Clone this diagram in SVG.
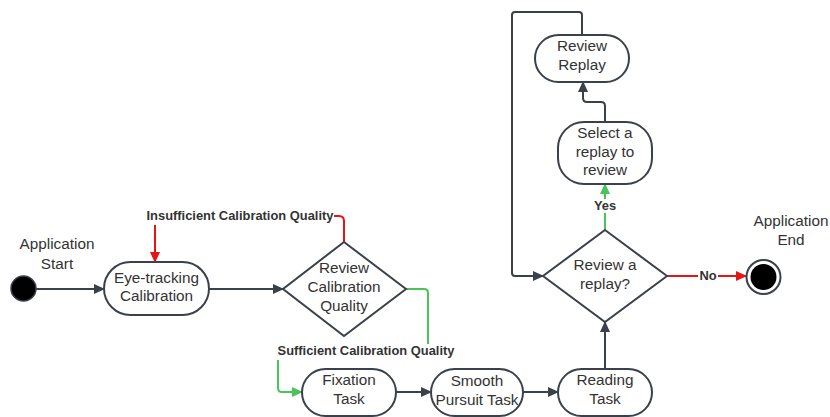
<svg xmlns="http://www.w3.org/2000/svg" width="830" height="417" viewBox="0 0 830 417">
<defs>
<marker id="ad" markerWidth="12" markerHeight="10" refX="10" refY="5" orient="auto" markerUnits="userSpaceOnUse"><path d="M0,0 L11,5 L0,10 Z" fill="#3a414a"/></marker>
<marker id="ar" markerWidth="12" markerHeight="10" refX="10" refY="5" orient="auto" markerUnits="userSpaceOnUse"><path d="M0,0 L11,5 L0,10 Z" fill="#e81313"/></marker>
<marker id="ag" markerWidth="12" markerHeight="10" refX="10" refY="5" orient="auto" markerUnits="userSpaceOnUse"><path d="M0,0 L11,5 L0,10 Z" fill="#4ac45a"/></marker>
</defs>
<style>
.n{fill:#fff;stroke:#3a414a;stroke-width:2}
.t{font-family:"Liberation Sans",Arial,sans-serif;font-size:15.3px;fill:#333;text-anchor:middle}
.l{font-family:"Liberation Sans",Arial,sans-serif;font-size:12.9px;font-weight:bold;fill:#333;text-anchor:middle}
.c{fill:none;stroke:#3a414a;stroke-width:2}
.r{fill:none;stroke:#e81313;stroke-width:2}
.g{fill:none;stroke:#4ac45a;stroke-width:2}
</style>
<rect width="830" height="417" fill="#fff"/>
<g id="connectors">
<path class="c" d="M36,289 H104" marker-end="url(#ad)"/>
<path class="c" d="M209,289 H283" marker-end="url(#ad)"/>
<path class="r" d="M344,242 V221 Q344,216 339,216 H334"/>
<path class="r" d="M155,225 V262" marker-end="url(#ar)"/>
<path class="g" d="M406,289 H424 Q428,289 428,293 V344"/>
<path class="g" d="M278,360 V388 Q278,392 282,392 H302" marker-end="url(#ag)"/>
<path class="c" d="M396,392 H431" marker-end="url(#ad)"/>
<path class="c" d="M523,392 H558" marker-end="url(#ad)"/>
<path class="c" d="M605,369 V322" marker-end="url(#ad)"/>
<path class="g" d="M605,230 V213"/>
<path class="g" d="M605,199 V184" marker-end="url(#ag)"/>
<path class="r" d="M667,276 H698"/>
<path class="r" d="M718,276 H746" marker-end="url(#ar)"/>
<path class="c" d="M605,122 V106 Q605,102 601,102 H587 Q583,102 583,98 V82" marker-end="url(#ad)"/>
<path class="c" d="M582,35 V15 Q582,12 579,12 H515 Q512,12 512,15 V273 Q512,276 515,276 H543" marker-end="url(#ad)"/>
<text class="l" x="240" y="220">Insufficient Calibration Quality</text>
<text class="l" x="366" y="355">Sufficient Calibration Quality</text>
<text class="l" x="605" y="210">Yes</text>
<text class="l" x="708" y="280">No</text>
</g>
<g id="start">
<circle cx="23.5" cy="288.5" r="12.5" fill="#000" stroke="#3a414a" stroke-width="1.5"/>
<text class="t" x="57" y="249">Application</text>
<text class="t" x="57" y="269">Start</text>
</g>
<g id="calibration">
<rect class="n" x="104" y="262" width="105" height="53" rx="26.5"/>
<text class="t" x="156.5" y="283">Eye-tracking</text>
<text class="t" x="156.5" y="301">Calibration</text>
</g>
<g id="review-calibration">
<path class="n" d="M344,242 L406,289 L344,336 L283,289 Z"/>
<text class="t" x="344" y="273">Review</text>
<text class="t" x="344" y="292">Calibration</text>
<text class="t" x="344" y="311">Quality</text>
</g>
<g id="fixation">
<rect class="n" x="302" y="369" width="94" height="47" rx="23.5"/>
<text class="t" x="349" y="385">Fixation</text>
<text class="t" x="349" y="404">Task</text>
</g>
<g id="smooth">
<rect class="n" x="431" y="369" width="92" height="47" rx="23.5"/>
<text class="t" x="477" y="386">Smooth</text>
<text class="t" x="477" y="405">Pursuit Task</text>
</g>
<g id="reading">
<rect class="n" x="558" y="369" width="94" height="47" rx="23.5"/>
<text class="t" x="605" y="385">Reading</text>
<text class="t" x="605" y="404">Task</text>
</g>
<g id="review-replay-decision">
<path class="n" d="M605,230 L667,276 L605,322 L543,276 Z"/>
<text class="t" x="605" y="270">Review a</text>
<text class="t" x="605" y="289">replay?</text>
</g>
<g id="select-replay">
<rect class="n" x="558" y="122" width="94" height="62" rx="26"/>
<text class="t" x="605" y="138">Select a</text>
<text class="t" x="605" y="157">replay to</text>
<text class="t" x="605" y="175">review</text>
</g>
<g id="review-replay">
<rect class="n" x="535" y="35" width="94" height="47" rx="23.5"/>
<text class="t" x="582" y="51">Review</text>
<text class="t" x="582" y="70">Replay</text>
</g>
<g id="end">
<circle cx="763.5" cy="277" r="17" fill="#fff" stroke="#3a414a" stroke-width="2"/>
<circle cx="763.5" cy="277" r="13" fill="#000"/>
<text class="t" x="791" y="226">Application</text>
<text class="t" x="791" y="245">End</text>
</g>
</svg>
